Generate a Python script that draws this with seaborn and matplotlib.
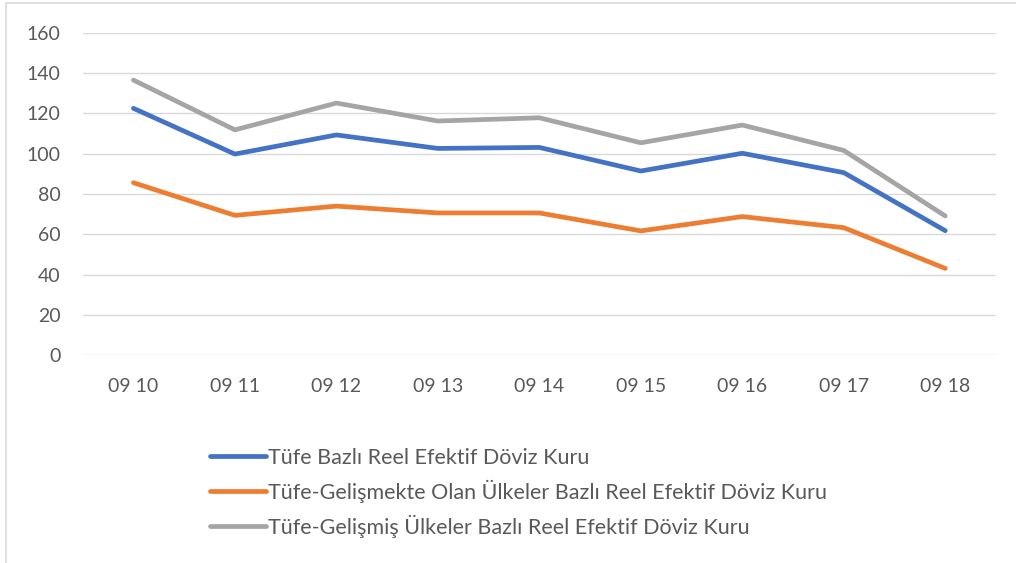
import matplotlib
matplotlib.use("Agg")
import matplotlib.pyplot as plt
import seaborn as sns
import pandas as pd
from matplotlib.patches import Rectangle
from matplotlib.lines import Line2D

categories = ["09 10", "09 11", "09 12", "09 13", "09 14", "09 15", "09 16", "09 17", "09 18"]
s_tufe = [122.5, 99.8, 109.3, 102.6, 103.1, 91.4, 100.2, 90.6, 61.8]
s_gelismekte = [85.6, 69.4, 74.0, 70.6, 70.6, 61.7, 68.8, 63.3, 43.1]
s_gelismis = [136.5, 111.8, 125.1, 116.2, 117.8, 105.4, 114.2, 101.6, 69.1]
series_names = [
    "Tüfe Bazlı Reel Efektif Döviz Kuru",
    "Tüfe-Gelişmekte Olan Ülkeler Bazlı Reel Efektif Döviz Kuru",
    "Tüfe-Gelişmiş Ülkeler Bazlı Reel Efektif Döviz Kuru",
]
colors = ["#4472C4", "#ED7D31", "#A5A5A5"]
yticks = [0, 20, 40, 60, 80, 100, 120, 140, 160]

rows = []
for name, vals in zip(series_names, [s_tufe, s_gelismekte, s_gelismis]):
    for c, v in zip(categories, vals):
        rows.append({"donem": c, "deger": v, "seri": name})
df = pd.DataFrame(rows)

sns.set_theme(style="white")
plt.rcParams["font.family"] = ["Lato", "DejaVu Sans"]

fig = plt.figure(figsize=(10.16, 5.63), dpi=100)
ax = fig.add_axes([82.7 / 1016, 1 - 355.3 / 563, (996 - 82.7) / 1016, (355.3 - 32.7) / 563])

sns.lineplot(data=df, x="donem", y="deger", hue="seri", palette=colors,
             hue_order=series_names, sort=False, linewidth=3.4, ax=ax, legend=False)

ax.set_xlim(-0.5, len(categories) - 0.5)
ax.set_ylim(0, 160)
ax.set_yticks(yticks)
ax.set_xticks(range(len(categories)))
ax.set_xticklabels(categories)
ax.set_xlabel("")
ax.set_ylabel("")
ax.grid(axis="y", color="#D9D9D9", linewidth=1.0)
ax.set_axisbelow(True)
for sp in ax.spines.values():
    sp.set_visible(False)
ax.tick_params(axis="both", length=0, labelsize=14, colors="#595959")
ax.tick_params(axis="y", pad=16)
ax.tick_params(axis="x", pad=16)

# legend
handles = [Line2D([0], [0], color=c, linewidth=3.4, solid_capstyle="round") for c in colors]
leg = fig.legend(handles, series_names, loc="center left",
                 bbox_to_anchor=(210 / 1016, 1 - 493 / 563),
                 frameon=False, handlelength=2.6, handletextpad=0.1,
                 labelspacing=0.55, borderpad=0, borderaxespad=0,
                 prop={"family": ["Lato", "DejaVu Sans"], "size": 15.5})
for t in leg.get_texts():
    t.set_color("#595959")

# chart frame
fig.patches.append(Rectangle((6 / 1016, -0.01), 1.02, 1 - 3 / 563 + 0.01,
                             transform=fig.transFigure, fill=False,
                             edgecolor="#D9D9D9", linewidth=1.2))

fig.savefig("out.png", dpi=100)
